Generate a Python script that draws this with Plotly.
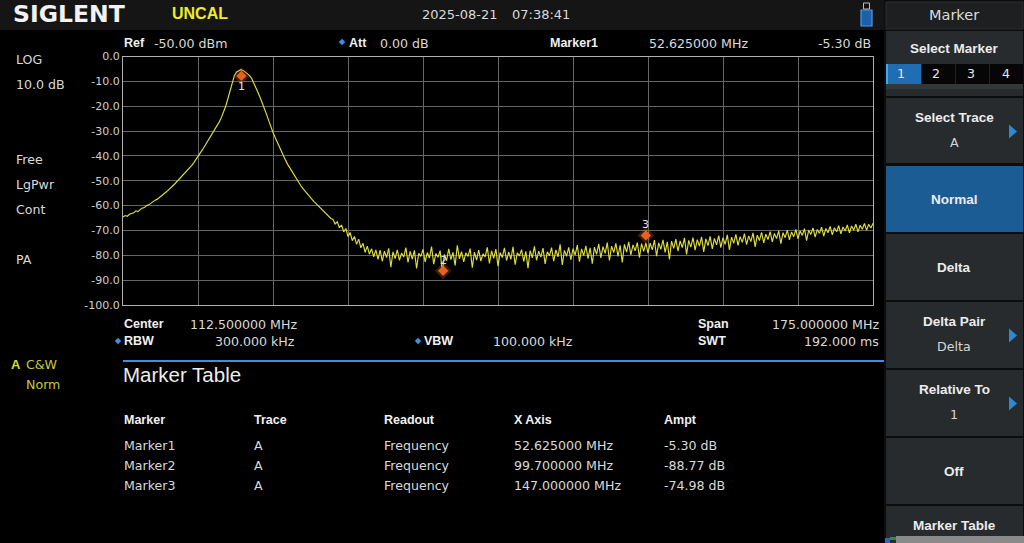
import numpy as np
import plotly.graph_objects as go

W, H = 1024, 543

# ---------------- data ----------------
START_MHZ = 25.0
STOP_MHZ = 200.0
CENTER_MHZ = 112.5
SPAN_MHZ = 175.0

# trace A amplitude (dB), one value every 0.5 MHz from 25 to 200 MHz
AMP_DB = [
    -64.6, -64.0, -64.3, -63.5, -63.2, -62.9, -62.1, -62.4, -61.6, -61.0,
    -60.8, -60.0, -59.7, -59.0, -58.6, -57.8, -57.4, -56.6, -56.0, -55.3,
    -54.6, -53.9, -52.9, -52.2, -51.4, -50.5, -49.6, -48.8, -47.9, -47.0,
    -46.0, -45.0, -43.9, -42.8, -41.6, -40.3, -39.0, -37.6, -36.2, -34.8,
    -33.4, -32.0, -30.6, -29.4, -27.8, -26.2, -24.4, -22.2, -19.8, -16.8,
    -13.5, -10.2, -7.6, -6.2, -5.7, -5.3, -5.6, -6.3, -7.0, -7.6,
    -8.8, -10.5, -12.4, -14.5, -16.5, -18.6, -20.9, -23.3, -25.8, -28.4,
    -30.6, -32.6, -34.6, -36.6, -38.5, -40.4, -42.0, -43.6, -45.1, -46.6,
    -48.0, -49.4, -50.8, -52.0, -53.2, -54.3, -55.4, -56.4, -57.3, -58.3,
    -59.1, -60.0, -60.8, -61.6, -62.5, -63.2, -64.1, -65.2, -65.6,
    -67.4, -66.5, -68.9, -67.8, -70.6, -69.2, -72.5, -70.8, -74.1, -72.4,
    -75.6, -73.5, -77.0, -75.2, -78.8, -76.3, -79.5, -77.4, -80.6, -77.8,
    -81.6, -77.9, -82.4, -78.3, -80.9, -77.2, -84.8, -78.6, -81.3, -77.8,
    -82.0, -79.1, -80.7, -76.9, -82.9, -78.4, -81.5, -78.0, -85.3, -79.2,
    -80.4, -77.6, -82.7, -78.9, -81.1, -76.5, -83.6, -79.3, -80.8, -78.1,
    -86.9, -79.6, -82.2, -77.4, -81.7, -78.8, -84.1, -76.0, -81.4, -78.5,
    -82.6, -79.0, -80.5, -77.3, -85.0, -78.7, -81.9, -77.9, -82.3, -79.4,
    -80.6, -76.8, -83.3, -78.2, -81.2, -77.5, -84.4, -78.9, -80.9, -77.0,
    -82.1, -78.6, -81.6, -76.6, -83.8, -79.0, -80.3, -77.7, -82.5, -78.4,
    -85.2, -78.1, -81.0, -76.4, -82.0, -78.3, -80.7, -77.1, -83.5, -78.6,
    -80.2, -76.9, -82.4, -77.8, -80.6, -75.6, -83.9, -78.0, -80.4, -76.8,
    -81.8, -77.3, -79.9, -75.9, -82.6, -77.4, -80.1, -76.2, -81.3, -77.0,
    -83.4, -76.7, -79.6, -75.4, -81.0, -76.5, -79.2, -74.9, -82.1, -76.3,
    -78.9, -75.2, -80.4, -76.0, -82.9, -75.6, -78.7, -74.6, -79.8, -75.8,
    -78.2, -74.9, -80.9, -75.3, -78.4, -74.98, -79.1, -75.1, -77.8, -73.9,
    -80.3, -75.0, -77.6, -73.8, -78.8, -74.6, -81.7, -74.3, -77.2, -73.5,
    -78.3, -74.2, -76.9, -73.0, -79.6, -74.0, -76.7, -72.9, -77.9, -73.7,
    -76.3, -72.6, -78.6, -73.4, -76.1, -72.4, -77.4, -73.2, -75.8, -72.1,
    -76.9, -72.9, -75.6, -71.8, -77.8, -72.7, -75.2, -71.6, -76.0, -72.5,
    -74.8, -71.3, -75.7, -72.2, -74.5, -71.0, -76.6, -71.9, -74.1, -70.8,
    -75.0, -71.5, -73.7, -70.5, -74.6, -71.2, -73.3, -70.2, -75.3, -70.9,
    -72.9, -69.9, -73.8, -70.6, -72.5, -69.6, -73.4, -70.2, -72.0, -69.3,
    -74.1, -69.9, -71.6, -69.0, -72.7, -69.6, -71.2, -68.7, -72.3, -69.2,
    -70.9, -68.4, -71.8, -68.9, -70.5, -68.1, -71.4, -68.6, -70.2, -67.8,
    -71.0, -68.2, -69.8, -67.5, -70.6, -67.9, -69.5, -67.2, -69.9, -67.5,
    -69.0, -67.1,
]
FREQ_MHZ = np.linspace(START_MHZ, STOP_MHZ, len(AMP_DB))

Y_TICKS = [0, -10, -20, -30, -40, -50, -60, -70, -80, -90, -100]
Y_TICK_TEXT = ["0.0", "-10.0", "-20.0", "-30.0", "-40.0", "-50.0",
               "-60.0", "-70.0", "-80.0", "-90.0", "-100.0"]

MARKER_NAMES = ["Marker1", "Marker2", "Marker3"]
MARKER_IDS = ["1", "2", "3"]
MARKER_TRACE = ["A", "A", "A"]
MARKER_READOUT = ["Frequency", "Frequency", "Frequency"]
MARKER_FREQ = [52.625, 99.7, 147.0]
MARKER_AMPT = [-5.30, -88.77, -74.98]
MARKER_SHOWN_DB = [-7.8, -86.2, -72.0]   # where the diamonds sit on screen

MENU_ITEMS = [("Select Trace", "A"), ("Normal", None), ("Delta", None),
              ("Delta Pair", "Delta"), ("Relative To", "1"), ("Off", None),
              ("Marker Table", None)]

# ---------------- helpers ----------------
PL, PR, PT, PB = 123, 873, 56.5, 305  # plot box in pixels

def px(x):
    return x / W

def py(y):
    return 1 - y / H

DV = "DejaVu Sans"
LS = "Liberation Sans"
TXT = "#d9d9d9"
WHITE = "#f0f0f0"

annotations = []
shapes = []

def text(x, y, s, size=12.6, color=TXT, bold=False, anchor="left", family=None):
    fam = family or (LS if bold else DV)
    annotations.append(dict(
        x=px(x), y=py(y), xref="paper", yref="paper", text=s, showarrow=False,
        xanchor=anchor, yanchor="middle", borderpad=0,
        font=dict(family=fam, size=size, color=color,
                  weight="bold" if bold else "normal")))

def rect(x0, y0, x1, y1, fill, line=None, lw=0):
    shapes.append(dict(type="rect", xref="paper", yref="paper",
                       x0=px(x0), x1=px(x1), y0=py(y1), y1=py(y0),
                       fillcolor=fill, line=dict(color=line or fill, width=lw),
                       layer="below"))

def poly(points, fill):
    d = "M " + " L ".join(f"{px(a):.5f},{py(b):.5f}" for a, b in points) + " Z"
    shapes.append(dict(type="path", xref="paper", yref="paper", path=d,
                       fillcolor=fill, line=dict(width=0), layer="above"))

def blue_diamond(x, y, r=3.2):
    poly([(x, y - r), (x + r, y), (x, y + r), (x - r, y)], "#3d8fe0")

# ---------------- frame pieces ----------------
rect(0, 0, 884, 30, "#151515")                       # top bar
rect(884, 0, 1024, 543, "#0c0d0e")                   # right panel back
rect(886, 2, 1023, 29, "#1d1f21", "#2c2f31", 1)      # "Marker" header
rect(886, 31, 1023, 96, "#272b2e")                   # select marker block
rect(886, 64, 1023, 84, "#060606")
rect(886, 84, 1023, 89, "#33373a")
rect(886, 64, 921, 84, "#1f6db2")
rect(886, 64, 888, 84, "#4aa3ee")
for xs in (922, 956, 990):
    rect(xs - 1, 64, xs, 84, "#202325")

btn_y = [(98, 163), (166, 232), (234, 300), (302, 368), (370, 436), (438, 504), (506, 543)]
for (title, sub), (y0, y1) in zip(MENU_ITEMS, btn_y):
    fill = "#1b5c95" if title == "Normal" else "#272b2e"
    rect(886, y0, 1023, y1, fill)
    if sub is None:
        text(954, (y0 + y1) / 2 if y1 < 540 else 525, title, size=13.5, color="#ececec",
             bold=True, anchor="center")
    else:
        text(954, y0 + 19.5, title, size=13.5, color="#ececec", bold=True, anchor="center")
        text(954, y0 + 44.5, sub, size=12.6, color="#d6d6d6", anchor="center")
    if title in ("Select Trace", "Delta Pair", "Relative To"):
        cy = y0 + 33.5
        poly([(1009, cy - 7), (1017, cy), (1009, cy + 7)], "#2b8ad2")

rect(896, 536, 1024, 543, "#8a8a8a")
rect(885, 538, 890, 543, "#3a5fd0")
rect(890, 537, 896, 540, "#2e8a4a")

# blue separator line
rect(123, 360, 884, 362, "#3a8fe2")

# usb / battery icon
rect(861, 10, 872, 26, "#1d5fa8", "#4a9be8", 1.2)
rect(863.5, 3, 869.5, 9, "#111111", "#bdbdbd", 1)

# ---------------- texts ----------------
text(12, 14, "SIGLENT", size=23.5, color="#f2f2f2", bold=True, family=DV)
text(171, 13, "UNCAL", size=16, color="#f0ee1e", bold=True)
text(421, 14, "2025-08-21", size=13)
text(511, 14, "07:38:41", size=13)

text(123, 43, "Ref", bold=True, color=WHITE, size=12.5)
text(153, 43, "-50.00 dBm")
blue_diamond(342, 42)
text(348, 43, "Att", bold=True, color=WHITE, size=12.5)
text(379, 43, "0.00 dB")
text(549, 43, MARKER_NAMES[0], bold=True, color=WHITE, size=12.5)
text(648, 43, f"{MARKER_FREQ[0]:.6f} MHz")
text(872, 43, f"{MARKER_AMPT[0]:.2f} dB", anchor="right")

for s, y in [("LOG", 59), ("10.0 dB", 84), ("Free", 159), ("LgPwr", 184),
             ("Cont", 209), ("PA", 259)]:
    text(15, y, s)
text(10, 364, "A", bold=True, color="#d8d83a", size=13)
text(25, 364, "C&W", color="#c8c83a")
text(25, 384, "Norm", color="#c8c83a")

text(123, 324, "Center", bold=True, color=WHITE, size=12.5)
text(189, 324, f"{CENTER_MHZ:.6f} MHz")
text(697, 324, "Span", bold=True, color=WHITE, size=12.5)
text(880, 324, f"{SPAN_MHZ:.6f} MHz", anchor="right")
blue_diamond(118, 341)
text(123, 341, "RBW", bold=True, color=WHITE, size=12.5)
text(296, 341, "300.000 kHz", anchor="right")
blue_diamond(418, 341)
text(423, 341, "VBW", bold=True, color=WHITE, size=12.5)
text(492, 341, "100.000 kHz")
text(697, 341, "SWT", bold=True, color=WHITE, size=12.5)
text(880, 341, "192.000 ms", anchor="right")

text(122, 374, "Marker Table", size=20.5, color="#ededed", family=LS)
cols = [123, 253, 383, 513, 663]
for x, h in zip(cols, ["Marker", "Trace", "Readout", "X Axis", "Ampt"]):
    text(x, 420, h, bold=True, color=WHITE, size=12.5)
for i in range(len(MARKER_NAMES)):
    y = 445 + 20 * i
    row = [MARKER_NAMES[i], MARKER_TRACE[i], MARKER_READOUT[i],
           f"{MARKER_FREQ[i]:.6f} MHz", f"{MARKER_AMPT[i]:.2f} dB"]
    for x, s in zip(cols, row):
        text(x, y, s)

text(954, 15, "Marker", size=14.5, color="#dcdcdc", anchor="center")
text(954, 49, "Select Marker", size=13.5, color="#ececec", bold=True, anchor="center")
for x, s in zip([901, 936, 971, 1006], ["1", "2", "3", "4"]):
    text(x, 74, s, anchor="center", color="#e6e6e6")

# marker number labels on the trace
for f, v, lab, sh in zip(MARKER_FREQ, MARKER_SHOWN_DB, MARKER_IDS, [-11, 10, 11]):
    annotations.append(dict(x=f, y=v, xref="x", yref="y", text=lab, showarrow=False,
                            yshift=sh, borderpad=0,
                            font=dict(family=DV, size=11, color="#e4e4e4")))

# ---------------- figure ----------------
fig = go.Figure()
fig.add_trace(go.Scatter(x=FREQ_MHZ, y=AMP_DB, mode="lines",
                         line=dict(color="#dede3c", width=1.15), hoverinfo="skip"))
fig.add_trace(go.Scatter(x=MARKER_FREQ, y=MARKER_SHOWN_DB, mode="markers",
                         marker=dict(symbol="diamond", size=13, color="rgba(235,95,30,0.28)",
                                     line=dict(width=0)), hoverinfo="skip"))
fig.add_trace(go.Scatter(x=MARKER_FREQ, y=MARKER_SHOWN_DB, mode="markers",
                         marker=dict(symbol="diamond", size=8, color="#e8621f",
                                     line=dict(width=0)), hoverinfo="skip"))

fig.update_layout(
    width=W, height=H, margin=dict(l=0, r=0, t=0, b=0, autoexpand=False),
    paper_bgcolor="#000000", plot_bgcolor="#000000", showlegend=False,
    annotations=annotations, shapes=shapes,
    xaxis=dict(domain=[px(PL), px(PR)], range=[START_MHZ, STOP_MHZ],
               tick0=START_MHZ, dtick=SPAN_MHZ / 10, showticklabels=False, ticks="",
               showgrid=True, gridcolor="#666666", gridwidth=1, zeroline=False,
               showline=True, linecolor="#b0b0b0", linewidth=1, mirror=True,
               fixedrange=True, automargin=False),
    yaxis=dict(domain=[py(PB), py(PT)], range=[-100, 0],
               tickvals=Y_TICKS, ticktext=Y_TICK_TEXT, ticks="",
               tickfont=dict(family=DV, size=11, color="#cfcfcf"),
               ticklabelstandoff=0,
               showgrid=True, gridcolor="#666666", gridwidth=1, zeroline=False,
               showline=True, linecolor="#b0b0b0", linewidth=1, mirror=True,
               fixedrange=True, automargin=False),
)

POST = (
    "var s=document.createElement('style');"
    "s.textContent='html,body{margin:0;padding:0;overflow:hidden;width:1024px;height:543px;background:#000}"
    "body>div{margin:0;padding:0;line-height:0;font-size:0}"
    ".plotly-graph-div{display:block;margin:0}';"
    "document.head.appendChild(s);"
)

fig.write_html("out.html", config={"displayModeBar": False, "staticPlot": True},
               post_script=POST)
